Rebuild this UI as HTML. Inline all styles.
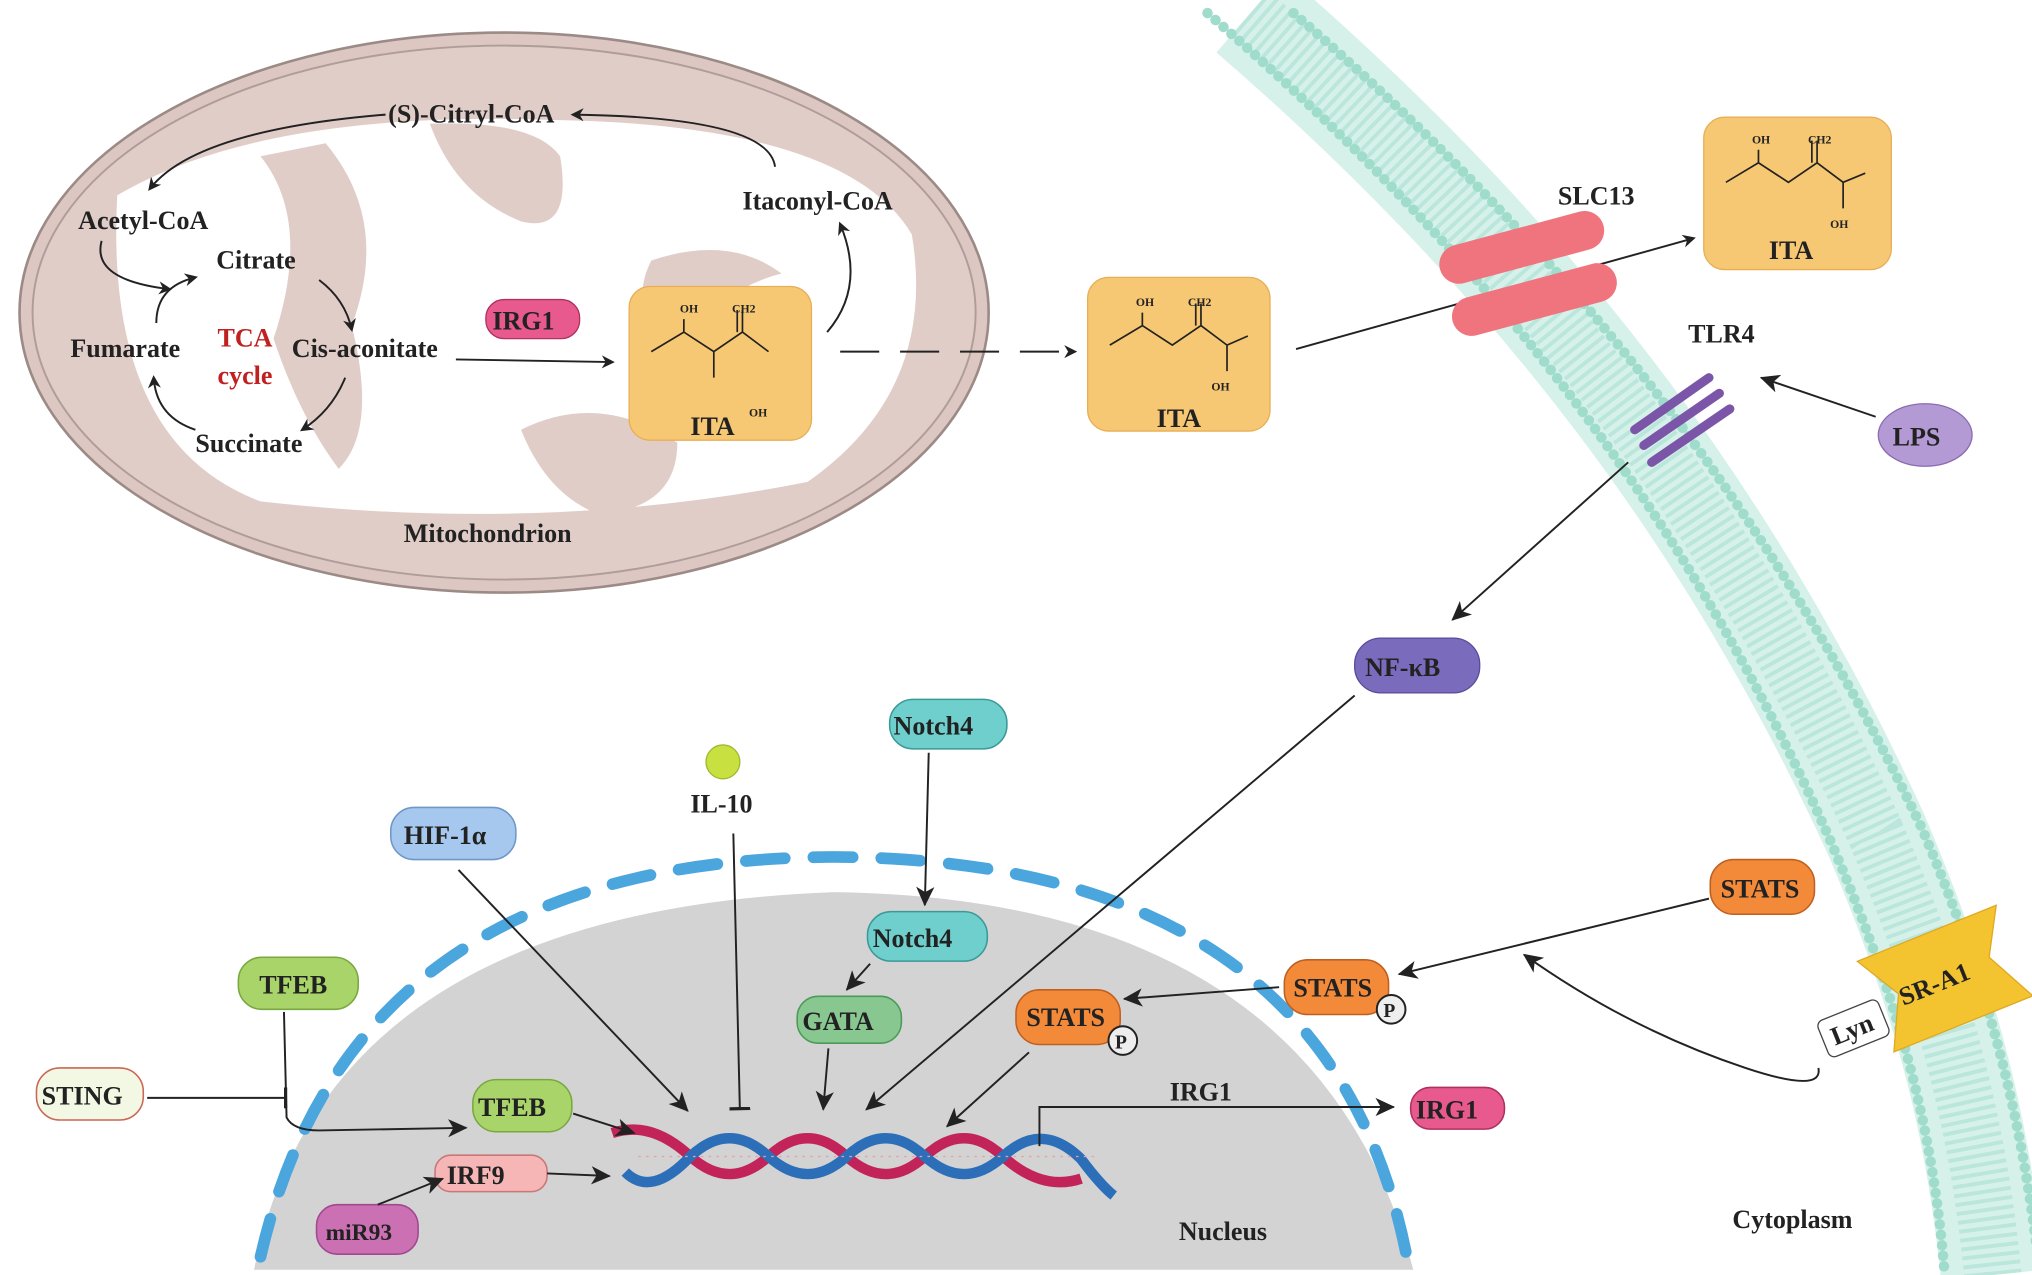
<!DOCTYPE html>
<html><head><meta charset="utf-8"><style>
html,body{margin:0;padding:0;background:#fff;width:2032px;height:1275px;overflow:hidden}
svg{display:block}
text{font-family:"Liberation Serif",serif;font-weight:bold;fill:#222}
</style></head><body>
<svg width="2032" height="1275" viewBox="0 0 1560 979" preserveAspectRatio="none" xmlns="http://www.w3.org/2000/svg">
<defs>
<marker id="a" markerWidth="10" markerHeight="10" refX="8" refY="5" orient="auto" markerUnits="userSpaceOnUse"><path d="M0,0 L10,5 L0,10 L3,5z" fill="#222"/></marker>
<marker id="b" markerWidth="16" markerHeight="16" refX="14" refY="8" orient="auto" markerUnits="userSpaceOnUse"><path d="M0,1 L15,8 L0,15 L4,8z" fill="#222"/></marker>
<marker id="t" markerWidth="4" markerHeight="16" refX="2" refY="8" orient="auto" markerUnits="userSpaceOnUse"><rect x="0" y="0" width="2.5" height="16" fill="#222"/></marker>
</defs>
<!-- membrane -->
<path d="M960,10 C1180,200 1330,400 1440,640 C1500,780 1520,880 1530,979" fill="none" stroke="#d6f1ea" stroke-width="80"/>
<path d="M960,10 C1180,200 1330,400 1440,640 C1500,780 1520,880 1530,979" fill="none" stroke="#a9dfd2" stroke-width="44" stroke-dasharray="3 4" opacity="0.6"/>
<path d="M927,10 C1147,200 1297,400 1405,645 C1465,785 1485,880 1493,979" fill="none" stroke="#9fdccb" stroke-width="8" stroke-dasharray="0.1 8" stroke-linecap="round"/>
<path d="M993,10 C1213,200 1363,400 1475,635 C1535,775 1555,880 1566,979" fill="none" stroke="#9fdccb" stroke-width="8" stroke-dasharray="0.1 8" stroke-linecap="round"/>
<!-- mitochondrion -->
<ellipse cx="387" cy="240" rx="372" ry="215" fill="#dcc7c2" stroke="#9c8a86" stroke-width="2"/>
<ellipse cx="387" cy="240" rx="362" ry="205" fill="#e1cdc8" stroke="#b09c98" stroke-width="1.5"/>
<path d="M90,150 Q200,85 420,92 Q650,95 700,180 Q720,300 620,370 Q420,410 200,385 Q80,340 90,150z" fill="#fff"/>
<path d="M200,120 Q240,170 210,260 Q230,320 260,360 Q290,330 270,250 Q300,170 250,110z" fill="#e1cdc8"/>
<path d="M330,95 Q350,150 400,170 Q440,180 430,120 Q410,92 330,95z" fill="#e1cdc8"/>
<path d="M500,200 Q560,180 600,210 Q560,220 520,260 Q480,240 500,200z" fill="#e1cdc8"/>
<path d="M400,330 Q460,300 520,340 Q520,390 460,395 Q420,380 400,330z" fill="#e1cdc8"/>
<g font-size="20">
<text x="298" y="94">(S)-Citryl-CoA</text>
<text x="60" y="176">Acetyl-CoA</text>
<text x="166" y="206">Citrate</text>
<text x="570" y="161">Itaconyl-CoA</text>
<text x="54" y="274">Fumarate</text>
<text x="224" y="274">Cis-aconitate</text>
<text x="150" y="347">Succinate</text>
<text x="310" y="416">Mitochondrion</text>
</g>
<text x="167" y="266" font-size="20" style="fill:#c0201f">TCA</text>
<text x="167" y="295" font-size="20" style="fill:#c0201f">cycle</text>
<g fill="none" stroke="#222" stroke-width="1.5" marker-end="url(#a)">
<path d="M595,128 Q590,90 440,88"/>
<path d="M296,88 Q150,100 115,145"/>
<path d="M78,185 Q70,215 130,222"/>
<path d="M120,248 Q120,220 150,213"/>
<path d="M245,215 Q265,230 270,253"/>
<path d="M265,290 Q255,315 232,330"/>
<path d="M150,330 Q120,320 118,290"/>
<path d="M635,255 Q665,220 645,172"/>
<path d="M350,276 L470,278"/>
</g>
<rect x="373" y="230" width="72" height="30" rx="14" fill="#e85a8e" stroke="#b03060"/>
<text x="378" y="253" font-size="20">IRG1</text>
<!-- ITA boxes -->
<g>
<rect x="483" y="220" width="140" height="118" rx="16" fill="#f7c873" stroke="#e8ae55"/>
<rect x="835" y="213" width="140" height="118" rx="16" fill="#f7c873" stroke="#e8ae55"/>
<rect x="1308" y="90" width="144" height="117" rx="16" fill="#f7c873" stroke="#e8ae55"/>
</g>
<g fill="none" stroke="#222" stroke-width="1.3">
<path d="M500,270 L525,255 L548,270 L570,255 L590,270 M570,255 L570,238 M566,238 L566,255 M525,255 L525,245 M548,270 L548,290"/>
<path d="M852,265 L877,250 L900,265 L922,250 L942,265 M922,250 L922,233 M918,233 L918,250 M877,250 L877,240 M922,250 L942,265 L942,285 M942,265 L958,258"/>
<path d="M1325,140 L1350,125 L1373,140 L1395,125 L1415,140 M1395,125 L1395,108 M1391,108 L1391,125 M1350,125 L1350,115 M1415,140 L1415,160 M1415,140 L1432,133"/>
</g>
<g font-size="9"><text x="522" y="240">OH</text><text x="562" y="240">CH2</text><text x="575" y="320">OH</text>
<text x="872" y="235">OH</text><text x="912" y="235">CH2</text><text x="930" y="300">OH</text>
<text x="1345" y="110">OH</text><text x="1388" y="110">CH2</text><text x="1405" y="175">OH</text></g>
<text x="530" y="334" font-size="20">ITA</text>
<text x="888" y="328" font-size="20">ITA</text>
<text x="1358" y="199" font-size="20">ITA</text>
<path d="M645,270 L825,270" stroke="#222" stroke-width="1.5" stroke-dasharray="30 16" fill="none" marker-end="url(#a)"/>
<path d="M995,268 L1300,183" stroke="#222" stroke-width="1.5" fill="none" marker-end="url(#a)"/>
<!-- SLC13 -->
<rect x="1103" y="175" width="130" height="30" rx="15" transform="rotate(-15 1168 189)" fill="#f0747e"/>
<rect x="1113" y="215" width="130" height="30" rx="15" transform="rotate(-15 1178 230)" fill="#f0747e"/>
<text x="1196" y="157" font-size="20">SLC13</text>
<!-- TLR4 -->
<text x="1296" y="263" font-size="20">TLR4</text>
<path d="M1255,330 L1312,290 M1262,342 L1320,302 M1268,355 L1328,314" stroke="#7b56a8" stroke-width="7" stroke-linecap="round"/>
<ellipse cx="1478" cy="334" rx="36" ry="24" fill="#b49ad4" stroke="#8a6cb0"/>
<text x="1453" y="342" font-size="20">LPS</text>
<path d="M1440,320 L1352,290" stroke="#222" stroke-width="1.5" marker-end="url(#b)"/>
<path d="M1250,355 L1115,476" stroke="#222" stroke-width="1.5" marker-end="url(#b)"/>
<rect x="1040" y="490" width="96" height="42" rx="20" fill="#7a6bbd" stroke="#5a4b9a"/>
<text x="1048" y="519" font-size="20">NF-κB</text>
<!-- nucleus -->
<path d="M195,975 Q250,700 640,685 Q1010,690 1085,975z" fill="#d3d3d3"/>
<path d="M200,965 Q270,660 640,658 Q1020,660 1080,965" fill="none" stroke="#4ba6de" stroke-width="9" stroke-dasharray="30 22" stroke-linecap="round"/>
<text x="905" y="952" font-size="20">Nucleus</text>
<text x="1330" y="943" font-size="20">Cytoplasm</text>
<!-- DNA -->
<g fill="none" stroke-width="8">
<path d="M470,870 Q500,860 530,888 Q560,915 590,888 Q620,860 650,888 Q680,915 710,888 Q740,860 770,888 Q800,915 830,905" stroke="#c2245a"/>
<path d="M480,900 Q500,920 530,888 Q560,860 590,888 Q620,915 650,888 Q680,860 710,888 Q740,915 770,888 Q800,860 830,890 Q845,910 855,918" stroke="#2c6fb8"/>
</g>
<path d="M490,888 L840,888" stroke="#e8a0a0" stroke-width="1" stroke-dasharray="2 4"/>
<!-- nodes -->
<g stroke-width="1.2">
<rect x="300" y="620" width="96" height="40" rx="18" fill="#a6c8ee" stroke="#6e98c8"/>
<rect x="683" y="537" width="90" height="38" rx="18" fill="#6ecfcc" stroke="#3a9a98"/>
<rect x="666" y="700" width="92" height="38" rx="18" fill="#6ecfcc" stroke="#3a9a98"/>
<rect x="612" y="765" width="80" height="36" rx="16" fill="#88c890" stroke="#4c9a58"/>
<rect x="183" y="735" width="92" height="40" rx="18" fill="#a9d46a" stroke="#7aa840"/>
<rect x="363" y="829" width="76" height="40" rx="18" fill="#a9d46a" stroke="#7aa840"/>
<rect x="28" y="820" width="82" height="40" rx="18" fill="#f2f8e4" stroke="#cc6655"/>
<rect x="334" y="887" width="86" height="28" rx="12" fill="#f7b6b6" stroke="#c87878"/>
<rect x="243" y="925" width="78" height="38" rx="16" fill="#cc70b4" stroke="#a04890"/>
<rect x="780" y="760" width="80" height="42" rx="18" fill="#f28a3a" stroke="#c06020"/>
<rect x="986" y="737" width="80" height="42" rx="18" fill="#f28a3a" stroke="#c06020"/>
<rect x="1313" y="660" width="80" height="42" rx="18" fill="#f28a3a" stroke="#c06020"/>
<rect x="1083" y="835" width="72" height="32" rx="15" fill="#e85a8e" stroke="#b03060"/>
</g>
<circle cx="862" cy="799" r="11" fill="#eee" stroke="#222" stroke-width="1.5"/>
<circle cx="1068" cy="775" r="11" fill="#eee" stroke="#222" stroke-width="1.5"/>
<text x="856" y="805" font-size="15">P</text>
<text x="1062" y="781" font-size="15">P</text>
<circle cx="555" cy="585" r="13" fill="#c8e040" stroke="#a0b830"/>
<g font-size="20">
<text x="310" y="648">HIF-1α</text>
<text x="686" y="564">Notch4</text>
<text x="670" y="727">Notch4</text>
<text x="616" y="791">GATA</text>
<text x="199" y="763">TFEB</text>
<text x="367" y="857">TFEB</text>
<text x="32" y="848">STING</text>
<text x="343" y="909">IRF9</text>
<text x="250" y="952" font-size="18">miR93</text>
<text x="788" y="788">STATS</text>
<text x="993" y="765">STATS</text>
<text x="1321" y="689">STATS</text>
<text x="1087" y="859">IRG1</text>
<text x="530" y="624">IL-10</text>
<text x="898" y="845">IRG1</text>
</g>
<g transform="rotate(-22 1490 750)">
<path d="M1435,715 L1550,715 L1530,750 L1550,790 L1435,790 L1455,750z" fill="#f4c430" stroke="#e0a820"/>
<text x="1455" y="760" font-size="20">SR-A1</text>
</g>
<g transform="rotate(-22 1422 790)">
<rect x="1398" y="775" width="50" height="30" rx="5" fill="#fff" stroke="#444"/>
<text x="1405" y="797" font-size="20">Lyn</text>
</g>
<!-- arrows -->
<g fill="none" stroke="#222" stroke-width="1.5">
<path d="M352,668 L528,853" marker-end="url(#b)"/>
<path d="M563,640 L568,852" marker-end="url(#t)"/>
<path d="M713,578 L710,695" marker-end="url(#b)"/>
<path d="M668,740 L650,760" marker-end="url(#b)"/>
<path d="M636,805 L632,852" marker-end="url(#b)"/>
<path d="M1040,534 L665,852" marker-end="url(#b)"/>
<path d="M790,808 L727,865" marker-end="url(#b)"/>
<path d="M982,758 L863,767" marker-end="url(#b)"/>
<path d="M1312,690 L1074,748" marker-end="url(#b)"/>
<path d="M1396,820 Q1400,840 1340,820 Q1250,790 1170,733" marker-end="url(#b)"/>
<path d="M218,777 L220,858 Q225,868 245,868 L358,866" marker-end="url(#b)"/>
<path d="M113,843 L220,843" marker-end="url(#t)"/>
<path d="M440,855 L487,870" marker-end="url(#b)"/>
<path d="M420,901 L468,903" marker-end="url(#b)"/>
<path d="M290,925 L340,905" marker-end="url(#b)"/>
<path d="M798,880 L798,850 L1070,850" marker-end="url(#b)"/>
</g>
</svg>
</body></html>
